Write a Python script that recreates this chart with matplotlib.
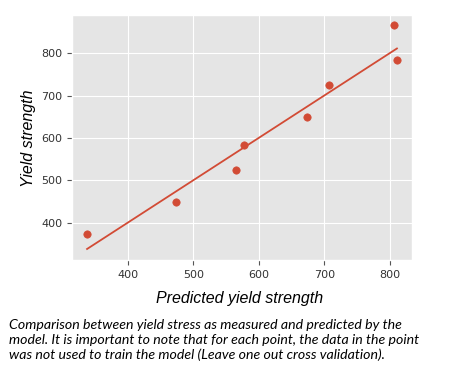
import matplotlib
matplotlib.use("Agg")
import matplotlib.pyplot as plt

predicted = [338, 474, 566, 577, 674, 707, 806, 811]
measured = [374, 448, 524, 583, 649, 724, 866, 784]
x_ticks = [400, 500, 600, 700, 800]
y_ticks = [400, 500, 600, 700, 800]
caption = ("Comparison between yield stress as measured and predicted by the\n"
           "model. It is important to note that for each point, the data in the point\n"
           "was not used to train the model (Leave one out cross validation).")

plt.style.use("ggplot")
fig = plt.figure(figsize=(4.5, 3.75), dpi=100)
ax = fig.add_axes([72/450, 1-260/375, 340/450, 245/375])

color = "#d24b35"
ax.scatter(predicted, measured, s=28, color=color, zorder=3)
lo, hi = min(predicted), max(predicted)
ax.plot([lo, hi], [lo, hi], color=color, lw=1.3, zorder=2)

ax.set_xlim(315, 834)
ax.set_ylim(312, 890)
ax.set_xticks(x_ticks)
ax.set_yticks(y_ticks)
ax.tick_params(labelsize=8, colors="#555555", labelcolor="#333333")

fig.text(240/450, 1-298/375, "Predicted yield strength", ha="center", va="center",
         fontsize=11.5, style="italic", family="Liberation Sans", color="black")
fig.text(28/450, 1-138/375, "Yield strength", ha="center", va="center", rotation=90,
         fontsize=11.5, style="italic", family="Liberation Sans", color="black")
fig.text(9/450, 1-340/375, caption, ha="left", va="center", fontsize=10.2,
         style="italic", family="Lato", color="black", linespacing=1.3)

fig.savefig("out.png", dpi=100, facecolor="white")
